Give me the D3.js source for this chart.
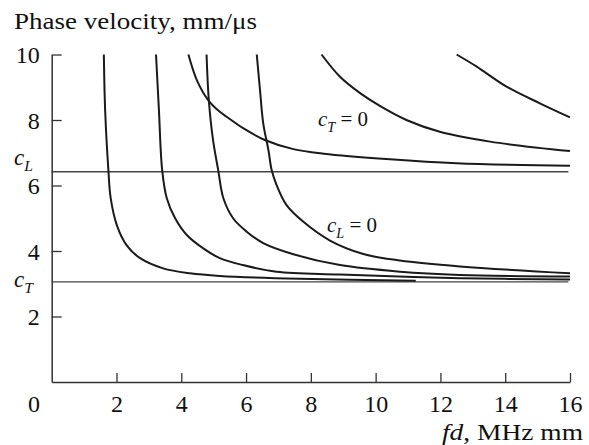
<!DOCTYPE html>
<html>
<head>
<meta charset="utf-8">
<script src="https://cdn.jsdelivr.net/npm/d3@7"></script>
<style>
  html, body { margin: 0; padding: 0; background: #fff; }
  svg { display: block; }
  text { font-family: "Liberation Serif", "Times New Roman", serif; fill: #111; }
</style>
</head>
<body>
<svg id="chart" width="589" height="445"></svg>
<script>
// ---- data ----
const xTicks = [2, 4, 6, 8, 10, 12, 14, 16];
const yTicks = [2, 4, 6, 8, 10];
const cL = 6.42;   // longitudinal velocity line
const cT = 3.06;   // transverse velocity line

const mode1 = [[1.61,10],[1.65,8.3],[1.75,6.47],[1.82,5.62],[2.01,4.79],[2.31,4.18],[2.73,3.78],[3.44,3.47],[4.27,3.32],[5.19,3.24],[7.66,3.15],[11.24,3.09]];
const mode2 = [[3.22,10],[3.31,8.3],[3.41,6.47],[3.55,5.62],[3.81,5.0],[4.17,4.49],[4.68,4.08],[5.19,3.78],[5.9,3.57],[6.94,3.37],[8.9,3.28],[12.6,3.17],[16,3.13]];
const mode3 = [[4.22,10],[4.48,9.22],[4.83,8.61],[5.19,8.25],[5.4,8.1],[5.91,7.75],[6.58,7.39],[7.46,7.11],[8.4,6.97],[10.44,6.8],[12.5,6.68],[16,6.6]];
const mode4 = [[4.78,10],[4.85,8.61],[4.98,7.39],[5.14,6.47],[5.3,5.61],[5.6,5.0],[6.02,4.59],[6.53,4.24],[7.46,3.9],[8.9,3.57],[10.75,3.37],[12.6,3.27],[16,3.22]];
const mode5 = [[6.33,10],[6.43,8.92],[6.53,7.9],[6.69,7.08],[6.79,6.47],[6.94,6.02],[7.25,5.4],[7.77,4.89],[8.59,4.32],[9.62,3.91],[10.75,3.71],[12.6,3.53],[16,3.32]];
const mode6 = [[8.33,10],[8.9,9.32],[9.52,8.82],[10.13,8.43],[10.95,8.0],[11.98,7.64],[13.53,7.34],[16,7.05]];
const mode7 = [[12.5,10],[13.12,9.63],[14.04,9.02],[15.07,8.51],[16,8.08]];
const modes = [mode1, mode2, mode3, mode4, mode5, mode6, mode7];

// ---- layout ----
const svg = d3.select("#chart");
const x = d3.scaleLinear().domain([0, 16]).range([51.7, 570]);
const y = d3.scaleLinear().domain([0, 10]).range([382, 54.5]);
const FS = 24;

svg.append("rect").attr("width", 589).attr("height", 445).attr("fill", "#fff");

// reference velocity lines
[cL, cT].forEach(v => {
  svg.append("line")
    .attr("x1", x(0)).attr("x2", x(15.95))
    .attr("y1", y(v)).attr("y2", y(v))
    .attr("stroke", "#444").attr("stroke-width", 1.3);
});

// curves
const line = d3.line().x(d => x(d[0])).y(d => y(d[1])).curve(d3.curveCatmullRom.alpha(0.5));
svg.append("g").selectAll("path").data(modes).join("path")
  .attr("d", line)
  .attr("fill", "none")
  .attr("stroke", "#1a1a1a")
  .attr("stroke-width", 2);

// axes
const xAxis = d3.axisBottom(x).tickValues(xTicks).tickSizeInner(-9).tickSizeOuter(0).tickPadding(13).tickFormat(d3.format("d"));
const yAxis = d3.axisLeft(y).tickValues(yTicks).tickSizeInner(-10).tickSizeOuter(0).tickPadding(12).tickFormat(d3.format("d"));

const gx = svg.append("g").attr("transform", `translate(0,${y(0)})`).call(xAxis);
const gy = svg.append("g").attr("transform", `translate(${x(0)},0)`).call(yAxis);
[gx, gy].forEach(g => {
  g.select(".domain").attr("stroke", "#333").attr("stroke-width", 1.5);
  g.selectAll(".tick line").attr("stroke", "#333").attr("stroke-width", 1.3);
  g.selectAll(".tick text").attr("font-size", FS)
    .attr("font-family", "'Liberation Serif', 'Times New Roman', serif").attr("fill", "#111");
});
gy.selectAll(".tick text").attr("dy", "0.35em");

// origin label
svg.append("text").attr("x", 34).attr("y", 412).attr("text-anchor", "middle")
  .attr("font-size", FS).text("0");

// y axis title
svg.append("text").attr("x", 14).attr("y", 29).attr("font-size", 23)
  .attr("textLength", 243).attr("lengthAdjust", "spacingAndGlyphs")
  .text("Phase velocity, mm/μs");

// x axis title
const xt = svg.append("text").attr("x", 442).attr("y", 440).attr("font-size", 23)
  .attr("textLength", 141).attr("lengthAdjust", "spacingAndGlyphs");
xt.append("tspan").attr("font-style", "italic").text("fd");
xt.append("tspan").text(", MHz mm");

// c_L and c_T labels on the y axis
function cLabel(px, py, sub, size) {
  const t = svg.append("text").attr("x", px).attr("y", py).attr("font-size", size);
  t.append("tspan").attr("font-style", "italic").text("c");
  t.append("tspan").attr("font-style", "italic").attr("font-size", size * 0.68).attr("dy", size * 0.28).text(sub);
  return t;
}
cLabel(14, 165, "L", 23);
cLabel(14, 287, "T", 23);

// in-plot labels
function eqLabel(px, py, sub) {
  const t = cLabel(px, py, sub, 21);
  t.append("tspan").attr("dy", -21 * 0.28).attr("font-style", "normal").text(" = 0");
}
eqLabel(318, 126, "T");
eqLabel(327, 232, "L");
</script>
</body>
</html>
